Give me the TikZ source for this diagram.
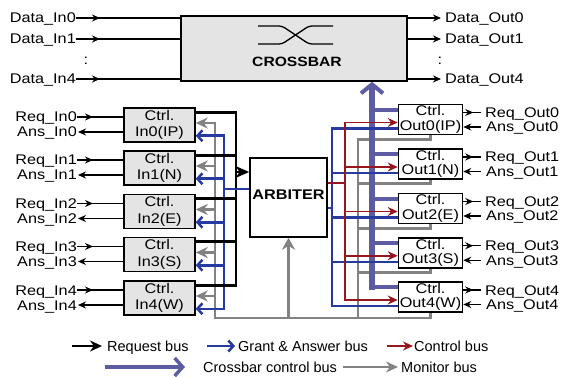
\documentclass[tikz,border=0pt]{standalone}
\usepackage{fontspec}
\setmainfont{Liberation Sans}[FakeStretch=1.16]
\newfontfamily\legfont{Liberation Sans}
\usetikzlibrary{arrows.meta}
\definecolor{gabc}{RGB}{38,58,160}
\definecolor{xcbc}{RGB}{92,92,162}
\definecolor{ctlc}{RGB}{150,22,32}
\definecolor{monc}{RGB}{130,130,130}
\definecolor{boxc}{RGB}{228,228,228}
\tikzset{
  stip/.tip={Stealth[length=8pt,width=7pt]},
  gtip/.tip={Stealth[length=12pt,width=11pt]},
  btip/.tip={Straight Barb[length=5pt,width=11pt]},
  rtip/.tip={Stealth[length=10pt,width=9pt]}
}
\begin{document}
\begin{tikzpicture}[x=1pt,y=-1pt,
  lbl/.style={inner sep=0pt,font=\fontsize{14}{16}\selectfont,text height=10pt,text depth=0pt},
  leg/.style={inner sep=0pt,font=\legfont\fontsize{14.5}{16}\selectfont,text height=10.4pt,text depth=0pt},
  ttl/.style={inner sep=0pt,font=\fontsize{14}{17}\selectfont\bfseries},
  inbox/.style={draw,line width=1.5pt,fill=boxc,minimum width=71pt,minimum height=34pt,inner sep=0pt,align=center,font=\fontsize{14}{16.5}\selectfont},
  outbox/.style={draw,line width=1.5pt,fill=white,minimum width=64pt,minimum height=30pt,inner sep=0pt,align=center,font=\fontsize{14}{14.5}\selectfont},
  thinline/.style={line width=1.2pt,black},
  reqbus/.style={line width=2.6pt,black},
  gabus/.style={line width=2.5pt,gabc},
  ctlbus/.style={line width=1.5pt,ctlc},
  xcbus/.style={line width=6.5pt,xcbc},
  xcbr/.style={line width=4pt,xcbc},
  monbus/.style={line width=2.6pt,monc}
]
\useasboundingbox (0,0) rectangle (568,377);

% ---------- crossbar ----------
\node[draw,line width=1.5pt,fill=boxc,minimum width=226pt,minimum height=65pt,inner sep=0pt] (xbar) at (294,48.5) {};
\node[ttl,font=\fontsize{13.5}{16}\selectfont\bfseries] (xbart) at (297,62) {CROSSBAR};
\draw[line width=1.3pt,rounded corners=3pt] (258,26) -- (282,26) -- (309,44) -- (333,44);
\draw[line width=1.3pt,rounded corners=3pt] (258,44) -- (282,44) -- (309,26) -- (333,26);

\node[lbl,anchor=east] (din0) at (76,18) {Data\_In0};
\node[lbl,anchor=east] (din1) at (76,39) {Data\_In1};
\node[lbl,anchor=east] (din4) at (76,79) {Data\_In4};
\node[lbl] (ddl) at (86,60) {:};
\node[lbl,anchor=west] (dout0) at (445,18) {Data\_Out0};
\node[lbl,anchor=west] (dout1) at (445,39) {Data\_Out1};
\node[lbl,anchor=west] (dout4) at (445,79) {Data\_Out4};
\node[lbl] (ddr) at (440,60) {:};
\foreach \k in {0,1,4} {
  \draw[thinline] (din\k.east) -- (din\k.east -| xbar.west);
  \draw[thinline,-{stip}] (din\k.east) -- ++(24,0);
  \draw[thinline,-{stip}] (dout\k.west -| xbar.east) -- ([xshift=-4pt]dout\k.west);
}

% ---------- arbiter ----------
\node[draw,line width=1.5pt,fill=white,minimum width=77pt,minimum height=79pt,inner sep=0pt] (arb) at (288.5,197.5) {};
\node[ttl] (arbt) at (288.5,195) {ARBITER};

% ---------- input controllers ----------
\foreach \i/\lab/\y in {0/IP/125,1/N/168,2/E/211.5,3/S/254.5,4/W/298} {
  \node[inbox] (in\i) at (159.5,\y) {Ctrl.\\In\i(\lab)};
  \node[lbl,anchor=east] (rqi\i) at (77,{\y-8}) {Req\_In\i};
  \node[lbl,anchor=east] (asi\i) at (77,{\y+7}) {Ans\_In\i};
  \draw[thinline] (rqi\i.east) -- (rqi\i.east -| in\i.west);
  \draw[thinline,-{stip}] (rqi\i.east) -- ++(16,0);
  \draw[thinline,{stip}-] ([xshift=1pt]asi\i.east) -- (asi\i.east -| in\i.west);
  \coordinate (bs\i) at ([yshift=-5pt]in\i.north east);
  \coordinate (gs\i) at ([yshift=2pt]in\i.east);
  \coordinate (gb\i) at ([yshift=7pt]in\i.south east);
}

% ---------- output controllers ----------
\foreach \i/\lab/\y in {0/IP/119.5,1/N/164,2/E/208.5,3/S/252.75,4/W/297} {
  \node[outbox] (out\i) at (430.5,\y) {Ctrl.\\Out\i(\lab)};
  \node[lbl,anchor=west] (rqo\i) at (485,{\y-7}) {Req\_Out\i};
  \node[lbl,anchor=west] (aso\i) at (486,{\y+7.5}) {Ans\_Out\i};
  \draw[thinline] (rqo\i.west -| out\i.east) -- ([xshift=-4pt]rqo\i.west);
  \draw[thinline,-{stip}] (rqo\i.west -| out\i.east) -- ++(10,0);
  \draw[thinline,{stip}-] (aso\i.west -| out\i.east) -- ([xshift=-5pt]aso\i.west);
  \coordinate (ps\i) at ([yshift=-6pt]out\i.north west);
  \coordinate (rs\i) at ([yshift=-3pt]out\i.west);
  \coordinate (bo\i) at ([yshift=-9pt]out\i.west);
  \coordinate (os\i) at ([yshift=-4pt]out\i.south);
}

% bus x positions
\coordinate (glx) at (215,0);
\coordinate (blx) at (224,0);
\coordinate (rlx) at (236,0);
\coordinate (brx) at (332,0);
\coordinate (rvx) at (345,0);
\coordinate (mrx) at (358,0);
\coordinate (pvx) at (372,0);
\coordinate (mlb) at (215,318);
\coordinate (pbot) at (372,290);

% ---------- monitor bus ----------
\draw[monbus,{gtip}-] (gs0) -- (gs0 -| glx) -- (mlb) -- (mlb -| out4.south) -- (out4.south);
\foreach \i in {1,2,3,4} { \draw[monbus,{gtip}-] (gs\i) -- (gs\i -| glx); }
\draw[monbus,-{Stealth[length=12pt,width=13pt]}] (mlb -| arb.south) -- (arb.south);
\draw[monbus] (out0.south) -- (os0) -- (os0 -| mrx) -- (mlb -| mrx);
\foreach \i in {1,2,3} { \draw[monbus] (out\i.south) -- (os\i) -- (os\i -| mrx); }

% ---------- crossbar control bus ----------
\draw[xcbus,-{Straight Barb[length=9pt,width=22pt,line width=4pt]}] (pbot) -- (pvx |- xbar.south);
\foreach \i in {0,1,2,3,4} { \draw[xcbr] (ps\i -| pvx) -- (ps\i); }

% ---------- grant & answer bus ----------
\draw[gabus,{btip}-{btip}] (gb0) -- (gb0 -| blx) -- (gb4 -| blx) -- (gb4);
\foreach \i in {1,2,3} { \draw[gabus,{btip}-] (gb\i) -- (gb\i -| blx); }
\draw[gabus] (bo0) -- (bo0 -| brx) -- (bo4 -| brx) -- (bo4);
\foreach \i in {1,2,3} { \draw[gabus] (bo\i -| brx) -- (bo\i); }
\coordinate (ba) at ([yshift=-10.5pt]arb.east);
\draw[gabus] (ba) -- (ba -| brx);

% ---------- request bus ----------
\draw[reqbus] (bs0) -- (bs0 -| rlx) -- (bs4 -| rlx) -- (bs4);
\foreach \i in {1,2,3} { \draw[reqbus] (bs\i) -- (bs\i -| rlx); }
\coordinate (ral) at ([yshift=25.5pt]arb.west);
\draw[reqbus,-{Stealth[length=14pt,width=12pt]}] (ral -| rlx) -- (ral);
\coordinate (bal) at ([yshift=8.5pt]arb.west);
\draw[gabus] (bal -| blx) -- (bal);

% ---------- control bus ----------
\draw[ctlbus,{rtip}-{rtip}] (rs0) -- (rs0 -| rvx) -- (rs4 -| rvx) -- (rs4);
\foreach \i in {1,2,3} { \draw[ctlbus,-{rtip}] (rs\i -| rvx) -- (rs\i); }
\coordinate (ra) at ([yshift=14.5pt]arb.east);
\draw[ctlbus] (ra) -- (ra -| rvx);

% ---------- legend ----------
\node[leg,anchor=west] (lg1) at (107,346) {Request bus};
\draw[reqbus,-{Stealth[length=12pt,width=11pt]}] ([xshift=-35pt]lg1.west) -- ([xshift=-5pt]lg1.west);
\node[leg,anchor=west] (lg2) at (238,346) {Grant \& Answer bus};
\draw[gabus,-{btip}] ([xshift=-31pt]lg2.west) -- ([xshift=-3pt]lg2.west);
\node[leg,anchor=west] (lg3) at (414,346) {Control bus};
\draw[ctlbus,-{rtip}] ([xshift=-27pt]lg3.west) -- ([xshift=-1pt]lg3.west);
\node[leg,anchor=west] (lg4) at (203,367) {Crossbar control bus};
\draw[xcbr,-{Straight Barb[length=8pt,width=18pt,line width=3.5pt]}] ([xshift=-98pt]lg4.west) -- ([xshift=-18pt]lg4.west);
\node[leg,anchor=west] (lg5) at (401,367) {Monitor bus};
\draw[monbus,-{gtip}] ([xshift=-58pt]lg5.west) -- ([xshift=-3pt]lg5.west);
\end{tikzpicture}
\end{document}
